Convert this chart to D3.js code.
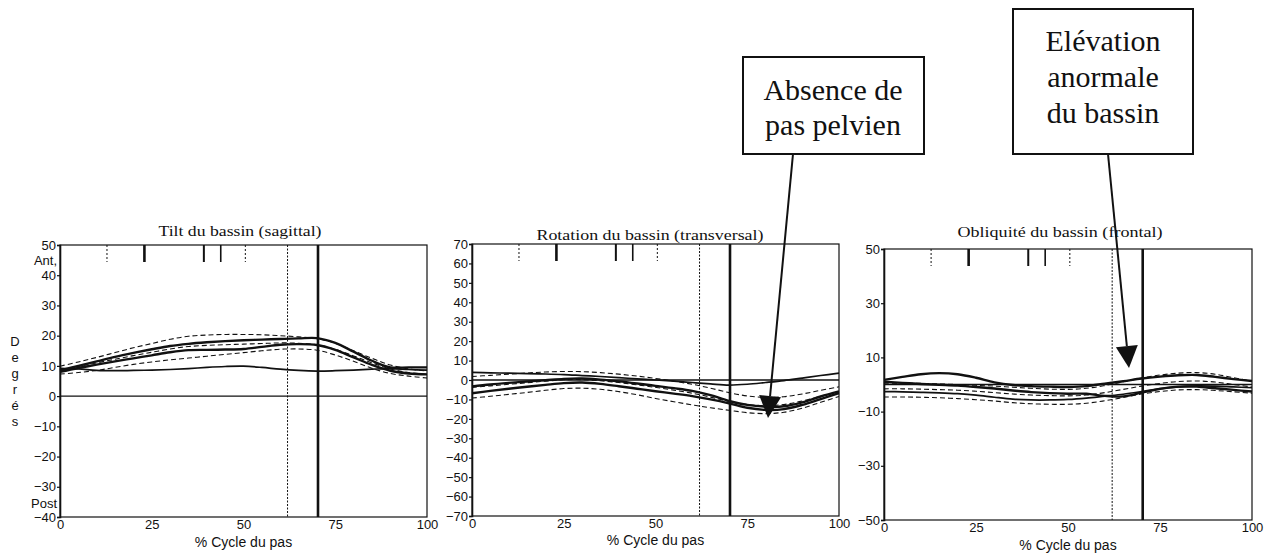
<!DOCTYPE html>
<html><head><meta charset="utf-8">
<script src="https://cdn.jsdelivr.net/npm/d3@7"></script>
<style>body{margin:0;background:#fff}svg{display:block}</style>
</head><body><svg id="c" width="1281" height="558"></svg>
<script>
// ---------- data ----------
const pctCycle = [0,5,10,15,20,25,30,35,40,45,50,55,60,65,70,75,80,85,90,95,100];

const panelTitles = ["Tilt du bassin (sagittal)", "Rotation du bassin (transversal)", "Obliquité du bassin (frontal)"];
const tiltTicks = [50,40,30,20,10,0,-10,-20,-30,-40];
const rotationTicks = [70,60,50,40,30,20,10,0,-10,-20,-30,-40,-50,-60,-70];
const obliquityTicks = [50,30,10,-10,-30,-50];
const cycleTicks = [0,25,50,75,100];
const xAxisTitle = "% Cycle du pas";
const yAxisTitle = "Degrés";
const tiltExtremeLabels = ["Ant,", "Post"];

// gait events (% cycle)
const eventMarkers = [12.8, 23, 39.2, 43.8, 50.5];
const oppositeToeOff = 62;
const toeOff = 70.3;

// Tilt (sagittal)
const tiltPatientA = [8.5,10,11.5,13,14.3,15.5,16.6,17.3,17.8,18.2,18.5,18.7,18.9,19.1,19.2,17.6,14.7,11.7,9.5,9.5,9.5];
const tiltPatientB = [8.0,9.3,10.4,11.5,12.5,13.5,14.5,15.2,15.3,15.4,15.6,16.3,17.0,17.2,16.9,15.3,12.8,10.3,8.4,7.5,7.2];
const tiltPatientC = [9.2,9.0,8.5,8.4,8.5,8.6,8.8,9.1,9.5,9.8,9.9,9.5,8.9,8.5,8.3,8.4,8.6,8.9,9.1,8.8,8.6];
const tiltNormUpper = [9.9,11.3,12.8,14.4,16,17.4,18.8,19.8,20.2,20.4,20.4,20.3,20.0,19.6,19.0,17.5,15.0,12.5,10.3,9.0,8.3];
const tiltNormMean = [8.6,9.8,11,12.2,13.4,14.5,15.6,16.4,16.8,17.0,17.2,17.4,17.6,17.5,17.0,15.5,13.3,11.0,9.0,7.8,7.2];
const tiltNormLower = [7.3,7.8,8.5,9.5,10.5,11.3,12.0,12.6,13.2,13.8,14.4,15.0,15.5,15.6,15.2,13.6,11.5,9.2,7.5,6.6,6.0];

// Rotation (transversal)
const rotPatientA = [-3.3,-2.3,-1.5,-0.8,-0.1,0.6,0.8,0.2,-0.7,-1.8,-3.0,-4.2,-5.6,-7.8,-10.8,-12.8,-13.7,-13.5,-11.5,-8.5,-5.9];
const rotPatientB = [-6.8,-5.6,-4.5,-3.5,-2.5,-1.6,-1.3,-2.0,-3.2,-4.5,-5.8,-7.0,-8.3,-10.0,-12.0,-14.3,-15.4,-15.0,-12.8,-9.8,-6.8];
const rotPatientC = [3.9,3.7,3.5,3.3,3.1,2.8,2.3,1.8,1.2,0.6,0,-0.6,-1.3,-2.0,-2.6,-2.2,-1.3,-0.3,1.0,2.3,3.5];
const rotNormUpper = [1.8,2.4,3.0,3.6,4.1,4.4,4.3,3.8,3.0,2.0,0.8,-0.6,-2.2,-4.2,-6.5,-8.2,-9.0,-8.6,-7.2,-5.3,-3.5];
const rotNormMean = [-3.8,-3.0,-2.2,-1.4,-0.6,0.1,0.2,-0.4,-1.3,-2.5,-3.8,-5.2,-6.8,-8.8,-11.0,-12.6,-13.2,-12.6,-10.8,-8.4,-6.0];
const rotNormLower = [-9.3,-8.4,-7.4,-6.4,-5.3,-4.4,-4.2,-4.8,-6.0,-7.6,-9.5,-11.2,-12.8,-14.3,-15.6,-16.8,-17.3,-16.6,-14.5,-11.5,-8.5];

// Obliquity (frontal)
const oblPatientA = [1.7,2.8,3.8,4.2,3.8,2.5,0.8,-0.2,-0.6,-0.8,-0.9,-0.6,0.3,1.2,2.2,2.9,3.4,3.5,2.8,2.0,1.3];
const oblPatientB = [1.0,0.6,0.2,-0.1,-0.4,-0.9,-1.5,-2.2,-2.8,-3.2,-3.4,-3.4,-4.2,-4.4,-3.0,-1.6,-0.8,-0.8,-1.4,-2.0,-2.6];
const oblPatientC = [-2.6,-2.7,-2.9,-3.1,-3.4,-3.9,-4.7,-5.4,-5.7,-5.7,-5.5,-5.0,-4.3,-3.6,-2.6,-1.5,-0.9,-0.5,-0.6,-0.9,-1.2];
const oblNormUpper = [0.5,0.5,0.4,0.2,0,-0.3,-0.6,-1.0,-1.4,-1.7,-1.8,-1.4,-0.4,1.0,2.4,3.5,4.2,4.4,3.8,2.5,1.2];
const oblNormMean = [-1.6,-1.6,-1.7,-1.9,-2.1,-2.5,-3.0,-3.5,-3.9,-4.1,-4.2,-3.9,-3.0,-1.8,-0.6,0.4,1.1,1.3,0.9,0,-0.9];
const oblNormLower = [-4.6,-4.6,-4.7,-4.9,-5.2,-5.6,-6.1,-6.7,-7.1,-7.3,-7.3,-6.9,-6.0,-4.8,-3.5,-2.6,-2.0,-1.9,-2.2,-2.7,-3.2];

const annotationTexts = [["Absence de", "pas pelvien"], ["Elévation", "anormale", "du bassin"]];

// ---------- drawing ----------
const svg = d3.select("#c");
svg.append("rect").attr("width",1281).attr("height",558).attr("fill","#fff");
const INK = "#111";
const SANS = "'Liberation Sans', Arial, sans-serif";
const SERIF = "'Liberation Serif', 'Times New Roman', serif";

const panels = [
  {title: panelTitles[0], box:{l:60,r:427,t:245,b:517}, dom:[-40,50], ticks:tiltTicks,
   titleX:240, titleY:236, titleW:163, xlabY:547,
   series:{A:tiltPatientA,B:tiltPatientB,C:tiltPatientC,U:tiltNormUpper,M:tiltNormMean,L:tiltNormLower}},
  {title: panelTitles[1], box:{l:472,r:839,t:244,b:516}, dom:[-70,70], ticks:rotationTicks,
   titleX:650, titleY:240, titleW:227, xlabY:545,
   series:{A:rotPatientA,B:rotPatientB,C:rotPatientC,U:rotNormUpper,M:rotNormMean,L:rotNormLower}},
  {title: panelTitles[2], box:{l:884,r:1252,t:249,b:520}, dom:[-50,50], ticks:obliquityTicks,
   titleX:1060, titleY:237, titleW:205, xlabY:550,
   series:{A:oblPatientA,B:oblPatientB,C:oblPatientC,U:oblNormUpper,M:oblNormMean,L:oblNormLower}}
];

panels.forEach((p, i) => {
  const b = p.box;
  const x = d3.scaleLinear().domain([0,100]).range([b.l, b.r]);
  const y = d3.scaleLinear().domain(p.dom).range([b.b, b.t]);
  const g = svg.append("g");

  // zero line
  g.append("line").attr("x1",b.l).attr("x2",b.r).attr("y1",y(0)).attr("y2",y(0))
    .attr("stroke",INK).attr("stroke-width",1.4);

  // gait events: markers at the top
  const evStyle = [{w:1,d:"2,2"},{w:2.6,d:null},{w:2,d:null},{w:1.6,d:null},{w:1,d:"2,2"}];
  eventMarkers.forEach((v, k) => {
    g.append("line").attr("x1",x(v)).attr("x2",x(v)).attr("y1",b.t).attr("y2",b.t+17)
      .attr("stroke",INK).attr("stroke-width",evStyle[k].w)
      .attr("stroke-dasharray",evStyle[k].d);
  });
  // vertical event lines
  g.append("line").attr("x1",x(oppositeToeOff)).attr("x2",x(oppositeToeOff)).attr("y1",b.t).attr("y2",b.b)
    .attr("stroke",INK).attr("stroke-width",1).attr("stroke-dasharray","2,1.5");
  g.append("line").attr("x1",x(toeOff)).attr("x2",x(toeOff)).attr("y1",b.t).attr("y2",b.b)
    .attr("stroke",INK).attr("stroke-width",2.6);

  // curves
  const line = d3.line().x((d,k)=>x(pctCycle[k])).y(d=>y(d)).curve(d3.curveCatmullRom);
  const s = p.series;
  [["U",1.1,"5,3"],["M",1.1,"5,3"],["L",1.1,"5,3"],["C",1.7,null],["B",2.4,null],["A",2.4,null]].forEach(([k,w,d]) => {
    g.append("path").attr("d", line(s[k])).attr("fill","none").attr("stroke",INK)
      .attr("stroke-width",w).attr("stroke-dasharray",d).attr("stroke-linejoin","round");
  });

  // frame
  g.append("rect").attr("x",b.l).attr("y",b.t).attr("width",b.r-b.l).attr("height",b.b-b.t)
    .attr("fill","none").attr("stroke",INK).attr("stroke-width",1.2);

  // y axis
  const ya = g.append("g").attr("transform",`translate(${b.l},0)`)
    .call(d3.axisLeft(y).tickValues(p.ticks).tickSize(3).tickPadding(1).tickFormat(d3.format("d")));
  ya.select(".domain").attr("stroke",INK).attr("stroke-width",1.6);
  ya.selectAll("line").attr("stroke",INK).attr("stroke-width",1.2);
  ya.selectAll("text").attr("font-family",SANS).attr("font-size",13).attr("fill",INK);

  // x axis labels
  const xa = g.append("g").attr("transform",`translate(0,${b.b})`)
    .call(d3.axisBottom(x).tickValues(cycleTicks).tickSize(0).tickPadding(3));
  xa.select(".domain").remove();
  xa.selectAll("text").attr("font-family",SANS).attr("font-size",13).attr("fill",INK);

  g.append("text").attr("x",(b.l+b.r)/2).attr("y",p.xlabY).attr("text-anchor","middle")
    .attr("font-family",SANS).attr("font-size",14).attr("fill",INK).text(xAxisTitle);

  // title
  g.append("text").attr("x",p.titleX).attr("y",p.titleY).attr("text-anchor","middle")
    .attr("font-family",SERIF).attr("font-size",15).attr("fill",INK)
    .attr("textLength",p.titleW).attr("lengthAdjust","spacingAndGlyphs").text(p.title);

  if (i === 0) {
    g.append("text").attr("x",b.l-3).attr("y",265).attr("text-anchor","end")
      .attr("font-family",SANS).attr("font-size",13).attr("fill",INK).text(tiltExtremeLabels[0]);
    g.append("text").attr("x",b.l-3).attr("y",508).attr("text-anchor","end")
      .attr("font-family",SANS).attr("font-size",13).attr("fill",INK).text(tiltExtremeLabels[1]);
    Array.from(yAxisTitle).forEach((ch, k) => {
      g.append("text").attr("x",15).attr("y",346 + k*16).attr("text-anchor","middle")
        .attr("font-family",SANS).attr("font-size",13).attr("fill",INK).text(ch);
    });
  }
});

// ---------- annotations ----------
const boxes = [
  {x:743, y:57, w:181, h:97, lines:annotationTexts[0], cx:833, y0:100, dy:35, from:[793,154], to:[768,418]},
  {x:1013, y:9, w:180, h:145, lines:annotationTexts[1], cx:1103, y0:51, dy:36, from:[1108,154], to:[1129,368]}
];
boxes.forEach(bx => {
  svg.append("rect").attr("x",bx.x).attr("y",bx.y).attr("width",bx.w).attr("height",bx.h)
    .attr("fill","#fff").attr("stroke",INK).attr("stroke-width",2);
  bx.lines.forEach((t,k) => {
    svg.append("text").attr("x",bx.cx).attr("y",bx.y0 + k*bx.dy).attr("text-anchor","middle")
      .attr("font-family",SERIF).attr("font-size",30).attr("fill",INK).text(t);
  });
  const [x1,y1] = bx.from, [x2,y2] = bx.to;
  const len = Math.hypot(x2-x1, y2-y1), ux = (x2-x1)/len, uy = (y2-y1)/len;
  const hl = 22, hw = 11;
  const bxp = x2 - ux*hl, byp = y2 - uy*hl;
  svg.append("line").attr("x1",x1).attr("y1",y1).attr("x2",bxp).attr("y2",byp)
    .attr("stroke",INK).attr("stroke-width",2);
  svg.append("path").attr("d", `M${x2},${y2}L${bxp - uy*hw},${byp + ux*hw}L${bxp + uy*hw},${byp - ux*hw}Z`)
    .attr("fill",INK);
});
</script>
</body></html>
